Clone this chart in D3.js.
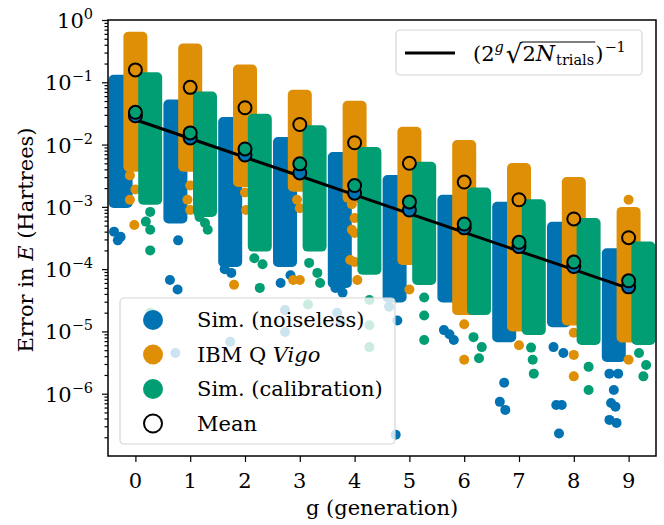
<!DOCTYPE html>
<html>
<head>
<meta charset="utf-8">
<script src="https://cdn.jsdelivr.net/npm/d3@7/dist/d3.min.js"></script>
<style>
  body { margin: 0; background: #fff; }
  svg text { font-family: "DejaVu Serif", serif; fill: #000; }
</style>
</head>
<body>
<svg id="chart" width="664" height="525"></svg>
<script>
// ── Data ───────────────────────────────────────────────────────────────────
const GENS = [0, 1, 2, 3, 4, 5, 6, 7, 8, 9];
const SERIES = ["Sim. (noiseless)", "IBM Q Vigo", "Sim. (calibration)"];
const COLORS = ["#0173b2", "#de8f05", "#029e73"];
const DODGE  = [-0.27, 0, 0.27];

// dense part of each strip: top and bottom value per generation
const noiselessTop = [0.11, 0.044, 0.023, 0.011, 0.0063, 0.0027, 0.0013, 0.001, 4.8e-4, 1.8e-4];
const noiselessBot = [1.15e-3, 6.5e-4, 1.3e-4, 1.3e-4, 6e-5, 3.5e-5, 3.5e-5, 8.1e-6, 1.4e-5, 3.9e-6];
const vigoTop      = [0.54, 0.35, 0.16, 0.063, 0.042, 0.016, 0.0098, 0.0042, 0.0025, 8.3e-4];
const vigoBot      = [4.4e-3, 4.4e-3, 2.5e-3, 2.1e-3, 1.4e-3, 1.4e-4, 2.2e-5, 1.2e-5, 1.5e-5, 8e-6];
const calibTop     = [0.12, 0.059, 0.026, 0.017, 0.0076, 0.0044, 0.0017, 0.0011, 5.5e-4, 2.3e-4];
const calibBot     = [1.3e-3, 8.3e-4, 2.3e-4, 2.3e-4, 9.8e-5, 6.7e-5, 2.2e-5, 1.05e-5, 7.3e-6, 7.3e-6];

// scattered points below the dense part: [g, value, jitter]
const noiselessOut = [
  [0, 4e-4, -0.12], [0, 3.3e-4, 0.0], [0, 2.9e-4, -0.05],
  [1, 2.9e-4, 0.05], [1, 6.7e-5, -0.1], [1, 4.7e-5, 0.04], [1, 4.5e-6, 0.0],
  [2, 8.7e-5, 0.02], [2, 1e-4, -0.1], [2, 6.8e-6, 0.0],
  [3, 6e-5, -0.08], [3, 8e-5, 0.1], [3, 2.2e-5, 0.0], [3, 9.8e-6, 0.0],
  [4, 4.2e-5, 0.05], [4, 5e-5, -0.08], [4, 2e-5, -0.05], [4, 1.4e-5, 0.02],
  [5, 2.5e-5, -0.1], [5, 1.5e-5, 0.05], [5, 2.2e-7, 0.02],
  [6, 1.05e-5, -0.1], [6, 7.3e-6, 0.08], [6, 9e-6, 0.0],
  [7, 1.5e-6, 0.0], [7, 7.4e-7, -0.08], [7, 5.5e-7, 0.02],
  [8, 5.6e-6, -0.1], [8, 4.5e-6, 0.08], [8, 6.6e-7, -0.05], [8, 6.6e-7, 0.05], [8, 2.3e-7, 0.0],
  [9, 2.1e-6, -0.08], [9, 2.1e-6, 0.08], [9, 1.15e-6, 0.0], [9, 7.1e-7, -0.05],
  [9, 6.2e-7, 0.03], [9, 3.8e-7, -0.08], [9, 3.4e-7, 0.05]
];
const vigoOut = [
  [0, 3.2e-3, -0.1], [0, 1.9e-3, 0.0], [0, 1.3e-3, -0.1], [0, 5.1e-4, -0.02],
  [1, 2.2e-3, 0.0], [1, 1.3e-3, -0.05], [1, 8.9e-4, 0.0],
  [2, 1.7e-3, 0.0], [2, 8.9e-4, 0.02], [2, 5.6e-5, -0.2],
  [3, 1.3e-3, -0.05], [3, 9.5e-4, 0.0], [3, 6.7e-5, -0.12], [3, 6.7e-5, 0.0],
  [4, 1.1e-3, -0.05], [4, 6.6e-4, 0.0], [4, 4.3e-4, -0.05], [4, 3.8e-4, 0.0],
  [4, 1.4e-4, -0.08], [4, 1.3e-4, 0.0], [4, 6.7e-5, 0.05],
  [5, 4.7e-5, 0.0],
  [6, 1.3e-5, 0.0], [6, 3.5e-6, 0.0],
  [7, 6e-6, 0.0],
  [8, 9.5e-6, 0.0], [8, 4.2e-6, 0.0], [8, 1.9e-6, 0.0],
  [9, 1.3e-3, 0.0], [9, 3.5e-6, 0.0]
];
const calibOut = [
  [0, 8.3e-4, 0.0], [0, 5.8e-4, -0.08], [0, 4.3e-4, 0.0], [0, 2e-4, 0.0], [0, 2e-5, 0.0],
  [1, 6.9e-4, -0.1], [1, 5.5e-4, 0.0], [1, 4.3e-4, 0.05],
  [2, 1.5e-4, -0.1], [2, 1.2e-4, 0.05], [2, 5e-5, 0.0],
  [3, 1.26e-4, -0.1], [3, 8.7e-5, 0.05], [3, 6e-5, 0.1], [3, 2.7e-5, -0.12],
  [4, 3.2e-5, 0.0], [4, 1.26e-5, 0.0], [4, 5.6e-6, 0.0],
  [5, 3.5e-5, 0.0], [5, 1.8e-5, 0.0], [5, 7.3e-6, 0.0],
  [6, 8.1e-6, -0.1], [6, 5.6e-6, 0.05], [6, 3.7e-6, 0.0],
  [7, 5.5e-6, -0.05], [7, 3.5e-6, -0.02], [7, 2.1e-6, 0.0],
  [8, 2.7e-6, 0.0], [8, 1.15e-6, 0.0],
  [9, 4.5e-6, -0.08], [9, 2.9e-6, 0.05], [9, 1.9e-6, 0.0]
];

// means per generation
const noiselessMean = [0.029, 0.0128, 0.0068, 0.0035, 0.00166, 8.9e-4, 4.6e-4, 2.3e-4, 1.1e-4, 5.2e-5];
const vigoMean      = [0.158, 0.083, 0.039, 0.021, 0.0107, 0.005, 0.0025, 0.0013, 6.4e-4, 3.2e-4];
const calibMean     = [0.033, 0.0154, 0.0085, 0.0049, 0.0022, 0.0012, 5.3e-4, 2.7e-4, 1.3e-4, 6.5e-5];

// (2^g sqrt(2 N_trials))^-1
const boundValues = [0.025, 0.0125, 0.00625, 0.003125, 0.00156, 7.8e-4, 3.9e-4, 1.95e-4, 9.8e-5, 4.9e-5];

const Y_MAJOR = [1e0, 1e-1, 1e-2, 1e-3, 1e-4, 1e-5, 1e-6];
const Y_EXP   = ["0", "−1", "−2", "−3", "−4", "−5", "−6"];

// ── Layout ─────────────────────────────────────────────────────────────────
const L = 108, R = 656, T = 20, B = 456;
const FS = 21, FS_SUP = 14.5, R_PT = 5, STRIP_W = 24;

const svg = d3.select("#chart");
const x = d3.scaleLinear().domain([-0.5, 9.5]).range([L, R]);
const y = d3.scaleLog().domain([1e-7, 1]).range([B, T]);

svg.append("defs").append("clipPath").attr("id", "plot-clip")
  .append("rect").attr("x", L).attr("y", T).attr("width", R - L).attr("height", B - T);

const plot = svg.append("g").attr("clip-path", "url(#plot-clip)");

const strips = [
  { top: noiselessTop, bot: noiselessBot, out: noiselessOut, mean: noiselessMean },
  { top: vigoTop,      bot: vigoBot,      out: vigoOut,      mean: vigoMean },
  { top: calibTop,     bot: calibBot,     out: calibOut,     mean: calibMean }
];

strips.forEach((s, i) => {
  const layer = plot.append("g");
  layer.selectAll("rect.band")
    .data(GENS)
    .join("rect")
    .attr("class", "band")
    .attr("x", g => x(g + DODGE[i]) - STRIP_W / 2)
    .attr("width", STRIP_W)
    .attr("y", g => y(s.top[g]) - R_PT)
    .attr("height", g => y(s.bot[g]) - y(s.top[g]) + 2 * R_PT)
    .attr("rx", R_PT).attr("ry", R_PT)
    .attr("fill", COLORS[i]);
  layer.selectAll("circle.pt")
    .data(s.out)
    .join("circle")
    .attr("class", "pt")
    .attr("cx", d => x(d[0] + DODGE[i] + d[2]))
    .attr("cy", d => y(d[1]))
    .attr("r", R_PT)
    .attr("fill", COLORS[i]);
});

// bound line
plot.append("path")
  .datum(GENS)
  .attr("fill", "none")
  .attr("stroke", "#000")
  .attr("stroke-width", 3)
  .attr("d", d3.line().x(g => x(g)).y(g => y(boundValues[g])));

// means
strips.forEach((s, i) => {
  plot.append("g").selectAll("circle")
    .data(GENS)
    .join("circle")
    .attr("cx", g => x(g))
    .attr("cy", g => y(s.mean[g]))
    .attr("r", 6.5)
    .attr("fill", COLORS[i])
    .attr("stroke", "#000")
    .attr("stroke-width", 2);
});

// ── Axes ───────────────────────────────────────────────────────────────────
const minors = [];
for (let e = -7; e < 0; e++) for (let m = 2; m <= 9; m++) minors.push(m * Math.pow(10, e));

const yMinor = svg.append("g").attr("transform", `translate(${L},0)`)
  .call(d3.axisLeft(y).tickValues(minors).tickSize(3.5).tickFormat(""));
const yMajor = svg.append("g").attr("transform", `translate(${L},0)`)
  .call(d3.axisLeft(y).tickValues(Y_MAJOR).tickSize(6).tickFormat(""));
const xAx = svg.append("g").attr("transform", `translate(0,${B})`)
  .call(d3.axisBottom(x).tickValues(GENS).tickSize(6).tickFormat(""));
[yMinor, yMajor, xAx].forEach(a => {
  a.select(".domain").remove();
  a.selectAll("line").attr("stroke", "#000").attr("stroke-width", 1.2);
});

// y tick labels 10^k
Y_MAJOR.forEach((v, i) => {
  const t = svg.append("text")
    .attr("x", L - 15).attr("y", y(v) + 8)
    .attr("text-anchor", "end")
    .attr("font-size", FS);
  t.append("tspan").text("10");
  t.append("tspan").attr("font-size", FS_SUP).attr("dy", -9).text(Y_EXP[i]);
});

// x tick labels
svg.append("g").selectAll("text")
  .data(GENS)
  .join("text")
  .attr("x", g => x(g)).attr("y", B + 32)
  .attr("text-anchor", "middle")
  .attr("font-size", FS)
  .text(g => g);

// frame
svg.append("rect")
  .attr("x", L).attr("y", T).attr("width", R - L).attr("height", B - T)
  .attr("fill", "none").attr("stroke", "#000").attr("stroke-width", 1.5);

// axis titles
svg.append("text")
  .attr("x", (L + R) / 2).attr("y", 515)
  .attr("text-anchor", "middle").attr("font-size", FS)
  .text("g (generation)");

const yl = svg.append("text")
  .attr("transform", `translate(33,240) rotate(-90)`)
  .attr("text-anchor", "middle").attr("font-size", FS);
yl.append("tspan").text("Error in ");
yl.append("tspan").attr("font-style", "italic").text("E");
yl.append("tspan").text(" (Hartrees)");

// ── Legend: bound line (top right) ─────────────────────────────────────────
const lg1 = svg.append("g");
lg1.append("rect")
  .attr("x", 396).attr("y", 30).attr("width", 246).attr("height", 45)
  .attr("rx", 4).attr("fill", "#fff").attr("fill-opacity", 0.8)
  .attr("stroke", "#d5d5d5").attr("stroke-width", 1.2);
lg1.append("line")
  .attr("x1", 405).attr("x2", 455).attr("y1", 53).attr("y2", 53)
  .attr("stroke", "#000").attr("stroke-width", 3);

const formula = [
  { t: "(2", size: FS, dy: 0 },
  { t: "g", size: FS_SUP, dy: -9, italic: true },
  { t: "√", size: FS + 5, dy: 2, gap: 2 },
  { t: "2", size: FS, dy: 0, over: true },
  { t: "N", size: FS + 1, dy: 0, italic: true, over: true },
  { t: "trials", size: FS_SUP, dy: 4, over: true, gap: 1 },
  { t: ")", size: FS, dy: 0, gap: 1 },
  { t: "−1", size: FS_SUP, dy: -9, gap: 1 }
];
let fx = 473;
const baseY = 61;
let overStart = null, overEnd = null;
formula.forEach(p => {
  fx += p.gap || 0;
  const el = lg1.append("text")
    .attr("x", fx).attr("y", baseY + p.dy)
    .attr("font-size", p.size)
    .attr("font-style", p.italic ? "italic" : null)
    .text(p.t);
  const w = el.node().getComputedTextLength();
  if (p.over && overStart === null) overStart = fx;
  if (p.over) overEnd = fx + w;
  fx += w;
});
lg1.append("line")
  .attr("x1", overStart - 1).attr("x2", overEnd + 1)
  .attr("y1", baseY - 19).attr("y2", baseY - 19)
  .attr("stroke", "#000").attr("stroke-width", 1);

// ── Legend: series (bottom left) ───────────────────────────────────────────
const lg2 = svg.append("g");
lg2.append("rect")
  .attr("x", 120).attr("y", 298).attr("width", 275).attr("height", 146)
  .attr("rx", 4).attr("fill", "#fff").attr("fill-opacity", 0.8)
  .attr("stroke", "#d5d5d5").attr("stroke-width", 1.2);

const legendRows = [0, 1, 2, 3];
const rowY = r => 320 + r * 34.5;
lg2.selectAll("circle")
  .data(legendRows)
  .join("circle")
  .attr("cx", 153).attr("cy", rowY)
  .attr("r", r => r < 3 ? 10 : 9)
  .attr("fill", r => r < 3 ? COLORS[r] : "#fff")
  .attr("stroke", r => r < 3 ? "none" : "#000")
  .attr("stroke-width", 2);

legendRows.forEach(r => {
  const t = lg2.append("text")
    .attr("x", 197).attr("y", rowY(r) + 7)
    .attr("font-size", FS);
  if (r === 1) {
    t.append("tspan").text("IBM Q ");
    t.append("tspan").attr("font-style", "italic").text("Vigo");
  } else {
    t.text(r < 3 ? SERIES[r] : "Mean");
  }
});
</script>
</body>
</html>
